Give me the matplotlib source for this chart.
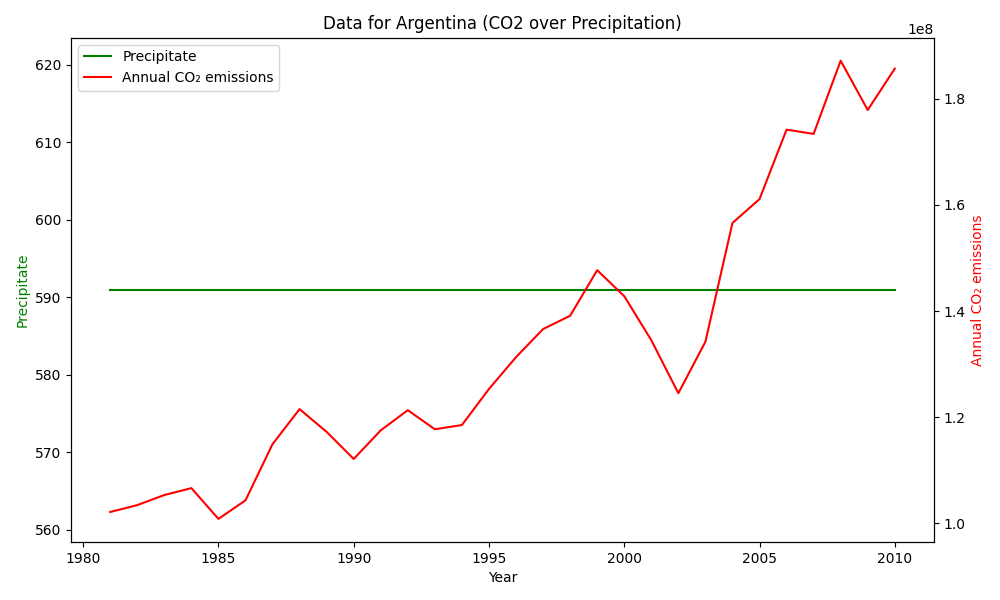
import matplotlib
matplotlib.use("Agg")
import matplotlib.pyplot as plt

years = list(range(1981, 2011))
precip = [591.0] * len(years)
co2 = [1.021, 1.034, 1.053, 1.066, 1.008, 1.043, 1.149, 1.215, 1.172, 1.121,
       1.175, 1.213, 1.177, 1.185, 1.253, 1.313, 1.366, 1.391, 1.477, 1.428,
       1.345, 1.245, 1.342, 1.566, 1.611, 1.742, 1.734, 1.872, 1.779, 1.857]
co2 = [v * 1e8 for v in co2]

fig, ax = plt.subplots(figsize=(10, 6), dpi=100)
l1, = ax.plot(years, precip, color="green", label="Precipitate")
ax.set_ylim(558.45, 623.5)
ax.set_xlabel("Year")
ax.set_ylabel("Precipitate", color="green")
ax2 = ax.twinx()
l2, = ax2.plot(years, co2, color="red", label="Annual CO₂ emissions")
ax2.set_ylabel("Annual CO₂ emissions", color="red")
ax.legend(handles=[l1, l2], loc="upper left")
ax.set_title("Data for Argentina (CO2 over Precipitation)")
fig.subplots_adjust(left=0.071, right=0.934, top=0.937, bottom=0.097)
fig.savefig("out.png")
